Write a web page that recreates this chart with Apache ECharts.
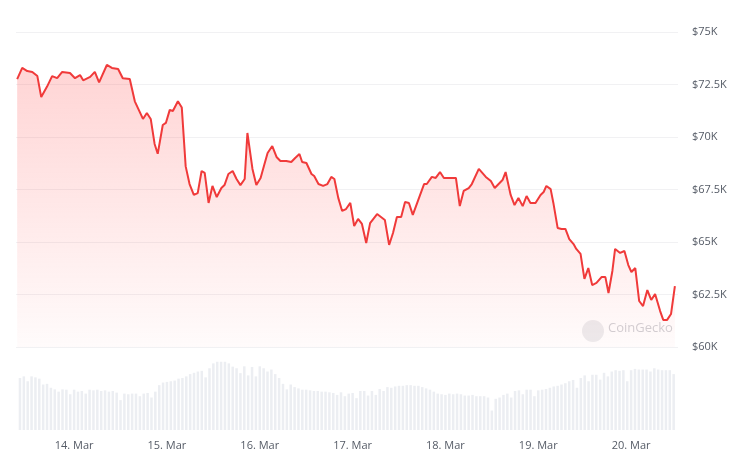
<!DOCTYPE html>
<html><head><meta charset="utf-8">
<script src="https://cdn.jsdelivr.net/npm/echarts@6/dist/echarts.min.js"></script>
<style>html,body{margin:0;background:#fff}#c{width:740px;height:464px}</style>
</head><body><div id="c"></div>
<script>
// hours since 13 Mar 00:00 (UTC)
const priceHours = [9.6,10.9,12.2,13.5,14.8,15.8,17.3,18.6,19.9,21.2,23.2,24.5,25.8,26.6,28.4,29.6,30.7,32.7,34.0,35.6,36.8,38.6,39.9,42.0,43.0,44.0,45.0,45.8,47.1,47.9,48.9,49.7,51.0,52.0,53.0,54.0,55.1,56.1,57.1,57.9,58.9,59.9,61.0,62.2,63.0,64.0,65.1,66.1,67.1,68.2,68.9,70.2,71.2,72.3,73.3,74.1,75.3,76.4,77.4,78.9,80.2,81.2,82.3,83.0,84.1,85.4,86.1,87.2,88.4,89.5,90.5,91.3,92.3,93.3,94.3,95.4,96.4,97.4,98.4,99.5,100.5,102.3,104.3,105.4,106.4,107.4,108.5,109.5,110.5,111.5,113.1,114.4,115.1,116.4,117.4,118.5,119.5,120.8,122.6,123.6,124.6,125.9,126.7,128.5,130.3,131.6,132.6,133.6,134.6,135.4,136.7,137.7,138.7,139.8,140.8,141.8,143.1,144.4,145.2,145.9,147.0,147.7,148.8,149.8,150.8,151.8,152.9,153.6,154.7,155.7,156.7,157.7,158.8,160.1,161.1,161.9,162.9,163.6,164.9,166.0,167.0,167.8,168.8,169.8,170.8,171.9,172.9,173.9,175.2,176.0,177.0,178.0,179.0];
const prices = [72.76,73.29,73.14,73.1,72.9,71.9,72.4,72.9,72.8,73.1,73.05,72.8,72.95,72.7,72.86,73.1,72.6,73.43,73.29,73.24,72.8,72.76,71.7,70.86,71.14,70.86,69.67,69.2,70.57,70.67,71.29,71.24,71.7,71.4,68.6,67.76,67.24,67.33,68.38,68.29,66.86,67.67,67.14,67.57,67.71,68.24,68.38,68.0,67.71,68.0,70.19,68.48,67.71,68.05,68.71,69.24,69.57,69.05,68.86,68.86,68.81,69.0,69.19,68.81,68.76,68.24,68.14,67.76,67.67,67.76,68.1,68.0,67.1,66.48,66.57,66.86,65.76,66.1,65.86,64.95,65.9,66.33,66.05,64.86,65.43,66.19,66.19,66.9,66.86,66.29,67.1,67.76,67.76,68.1,68.05,68.33,68.05,68.05,68.05,66.71,67.43,67.57,67.76,68.48,68.1,67.9,67.57,67.76,67.95,68.33,67.24,66.76,67.1,66.71,67.19,66.86,66.86,67.24,67.38,67.67,67.52,66.86,65.67,65.62,65.62,65.14,64.9,64.67,64.43,63.24,63.76,62.95,63.05,63.33,63.33,62.57,63.62,64.67,64.48,64.57,63.9,63.57,63.76,62.19,61.95,62.71,62.24,62.52,61.71,61.29,61.29,61.57,62.9];
const volStartHour = 10;
const volumes = [160,165,150,165,162,158,140,142, 130,125,118,125,124, 110,124,118,120,112,124,122,124,120,122,118,120,115, 92,112,110,112,112,104,112,114,100,118, 138,146,148,150,152,158,160,165, 172,176,180,182,162,190, 205,210,210,210,205,195, 190,175,196,168,194,165,196,190,180,186,172,160, 142,125,140,132,128,124, 124,122,120,120,118,118,116,114,108,116, 104,112,114,98,120,120,106,120,108,126,120,132,130, 134,136,136,138,138,136,136,132,128,124,118,112, 110,108,112,110,112,110,106,106,108,104,104,104,100,60,96,100,108, 112,100,120,122,110,124,124,104,122, 124,126,130,134,136,140,144,150,154,130, 160,168,150,170,170,155,176,165, 180,184,182,184,150,184,188,186,186,186,180,190,186,184,184,184,172];
const yTicks = [60,62.5,65,67.5,70,72.5,75];
const dayLabels = ['14. Mar','15. Mar','16. Mar','17. Mar','18. Mar','19. Mar','20. Mar'];

const base = Date.UTC(2024,2,13);
const H = 3600e3;
const tMin = base + 9.3*H, tMax = base + 179.8*H;
const priceData = prices.map((v,i)=>[base+priceHours[i]*H, v]);
const volData = volumes.map((v,i)=>[base+(volStartHour+i)*H, v]);
const fmtK = v => '$'+(Number.isInteger(v)?v:v.toFixed(1))+'K';

const chart = echarts.init(document.getElementById('c'));
chart.setOption({
  useUTC: true,
  animation: false,
  grid: [
    {left:16, right:62, top:32, height:315},
    {left:16, right:62, top:352, bottom:34}
  ],
  xAxis: [
    {type:'time', gridIndex:0, min:tMin, max:tMax, show:false},
    {type:'time', gridIndex:1, min:tMin, max:tMax, interval:24*H,
     axisLine:{show:false}, axisTick:{show:false}, splitLine:{show:false},
     axisLabel:{color:'#555b66', fontSize:11, fontFamily:'Open Sans', margin:10,
       formatter: v => { const d=new Date(v); return d.getUTCHours()===0 ? dayLabels[d.getUTCDate()-14]||'' : ''; }}}
  ],
  yAxis: [
    {type:'value', gridIndex:0, position:'right', min:60, max:75, interval:2.5,
     axisLine:{show:false}, axisTick:{show:false},
     splitLine:{lineStyle:{color:'#f1f1f3'}},
     axisLabel:{color:'#555b66', fontSize:11, fontFamily:'Open Sans', margin:14,
       formatter: v => yTicks.includes(v) ? fmtK(v) : ''}},
    {type:'value', gridIndex:1, min:0, max:240, show:false}
  ],
  series: [
    {type:'bar', xAxisIndex:1, yAxisIndex:1, data:volData, barWidth:2.5,
     itemStyle:{color:'#eceef2'}},
    {type:'line', xAxisIndex:0, yAxisIndex:0, data:priceData, showSymbol:false,
     lineStyle:{color:'#f03a3a', width:2},
     areaStyle:{origin:'start', color:new echarts.graphic.LinearGradient(0,0,0,1,[
       {offset:0, color:'rgba(255,80,80,0.35)'},{offset:1, color:'rgba(255,80,80,0.03)'}])}}
  ],
  graphic: [
    {type:'circle', shape:{cx:593, cy:331, r:11}, style:{fill:'rgba(200,200,205,0.35)'}},
    {type:'text', left:608, top:322, style:{text:'CoinGecko', fill:'rgba(190,190,195,0.7)', font:'13px "Open Sans"'}}
  ]
});
</script></body></html>
